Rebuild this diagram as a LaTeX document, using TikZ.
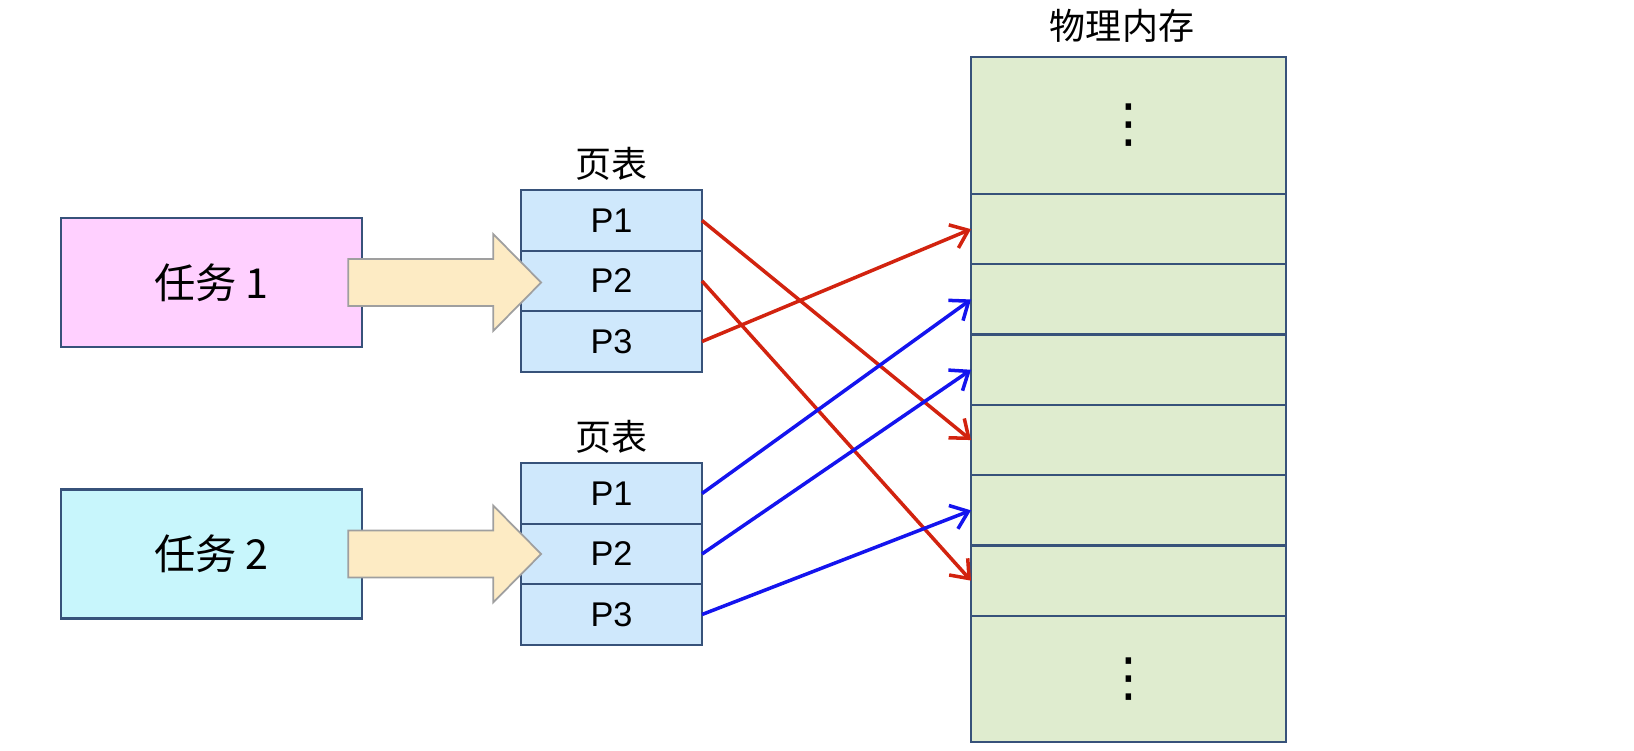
\documentclass[tikz,border=0pt]{standalone}
\usepackage{fontspec}
\setmainfont{Liberation Sans}
\newfontfamily\cjk{Noto Sans CJK SC}
\newfontfamily\symfont{DejaVu Sans}
\usepackage{xcolor}
\usepackage{tikz}
\usetikzlibrary{arrows.meta, positioning, calc}
\definecolor{framegray}{RGB}{55, 82, 122}
\definecolor{taskpink}{RGB}{255, 208, 255}
\definecolor{taskcyan}{RGB}{200, 246, 252}
\definecolor{tableblue}{RGB}{207, 232, 252}
\definecolor{memgreen}{RGB}{223, 236, 207}
\definecolor{arrowcream}{RGB}{253, 235, 196}
\definecolor{linkred}{RGB}{210, 35, 15}
\definecolor{linkblue}{RGB}{20, 20, 238}

\begin{document}
\begin{tikzpicture}[
    taskbox/.style={draw=framegray, line width=1.3pt, minimum width=6.02cm, minimum height=2.58cm, font=\fontsize{23.5}{27}\selectfont\cjk},
    pagerow/.style={draw=framegray, line width=1.3pt, fill=tableblue, outer sep=0pt, minimum width=3.62cm, minimum height=1.21cm, font=\fontsize{19.5}{22}\selectfont},
    memrow/.style={draw=framegray, line width=1.3pt, fill=memgreen, outer sep=0pt, minimum width=6.3cm, minimum height=1.406cm, font=\fontsize{30}{34}\selectfont\symfont},
    caption/.style={font=\fontsize{20.5}{24}\selectfont\cjk, inner sep=2pt},
    bigarrow/.style={draw=gray!75, line width=1pt, fill=arrowcream},
    redlink/.style={draw=linkred, line width=2pt, -{Straight Barb[length=0.32cm, width=0.5cm]}},
    bluelink/.style={draw=linkblue, line width=2pt, -{Straight Barb[length=0.32cm, width=0.5cm]}}
]
\useasboundingbox (0,0) rectangle (32.68,-15);

% Tasks
\node[taskbox, fill=taskpink] (task1) at (4.23,-5.65) {任务 1};
\node[taskbox, fill=taskcyan] (task2) at (4.23,-11.08) {任务 2};

% Page table of task 1
\node[pagerow] (ta1) at (12.23,-4.41) {P1};
\node[pagerow, below=0pt of ta1] (ta2) {P2};
\node[pagerow, below=0pt of ta2] (ta3) {P3};
\node[caption, above=0.12cm of ta1] (pt1) {页表};

% Page table of task 2
\node[pagerow] (tb1) at (12.23,-9.87) {P1};
\node[pagerow, below=0pt of tb1] (tb2) {P2};
\node[pagerow, below=0pt of tb2] (tb3) {P3};
\node[caption, above=0.12cm of tb1] (pt2) {页表};

% Physical memory
\node[memrow, minimum height=2.74cm] (m0) at (22.57,-2.51) {⋮};
\node[memrow, below=0pt of m0] (m1) {};
\node[memrow, below=0pt of m1] (m2) {};
\node[memrow, below=0pt of m2] (m3) {};
\node[memrow, below=0pt of m3] (m4) {};
\node[memrow, below=0pt of m4] (m5) {};
\node[memrow, below=0pt of m5] (m6) {};
\node[memrow, below=0pt of m6, minimum height=2.52cm] (m7) {⋮};
\node[caption, above=0.22cm of m0, xshift=-0.13cm] (memtitle) {物理内存};

% Block arrows from tasks into their tables
\draw[bigarrow] ($(task1.east)+(-0.3,0.47)$) -- ++(2.9,0) -- ++(0,0.5) -- ++(0.96,-0.97)
    -- ++(-0.96,-0.97) -- ++(0,0.5) -- ++(-2.9,0) -- cycle;
\draw[bigarrow] ($(task2.east)+(-0.3,0.47)$) -- ++(2.9,0) -- ++(0,0.5) -- ++(0.96,-0.97)
    -- ++(-0.96,-0.97) -- ++(0,0.5) -- ++(-2.9,0) -- cycle;

% Mapping of task 1
\draw[redlink] (ta1.east) -- (m4.west);
\draw[redlink] (ta2.east) -- (m6.west);
\draw[redlink] (ta3.east) -- (m1.west);

% Mapping of task 2
\draw[bluelink] (tb1.east) -- (m2.west);
\draw[bluelink] (tb2.east) -- (m3.west);
\draw[bluelink] (tb3.east) -- (m5.west);
\end{tikzpicture}
\end{document}
